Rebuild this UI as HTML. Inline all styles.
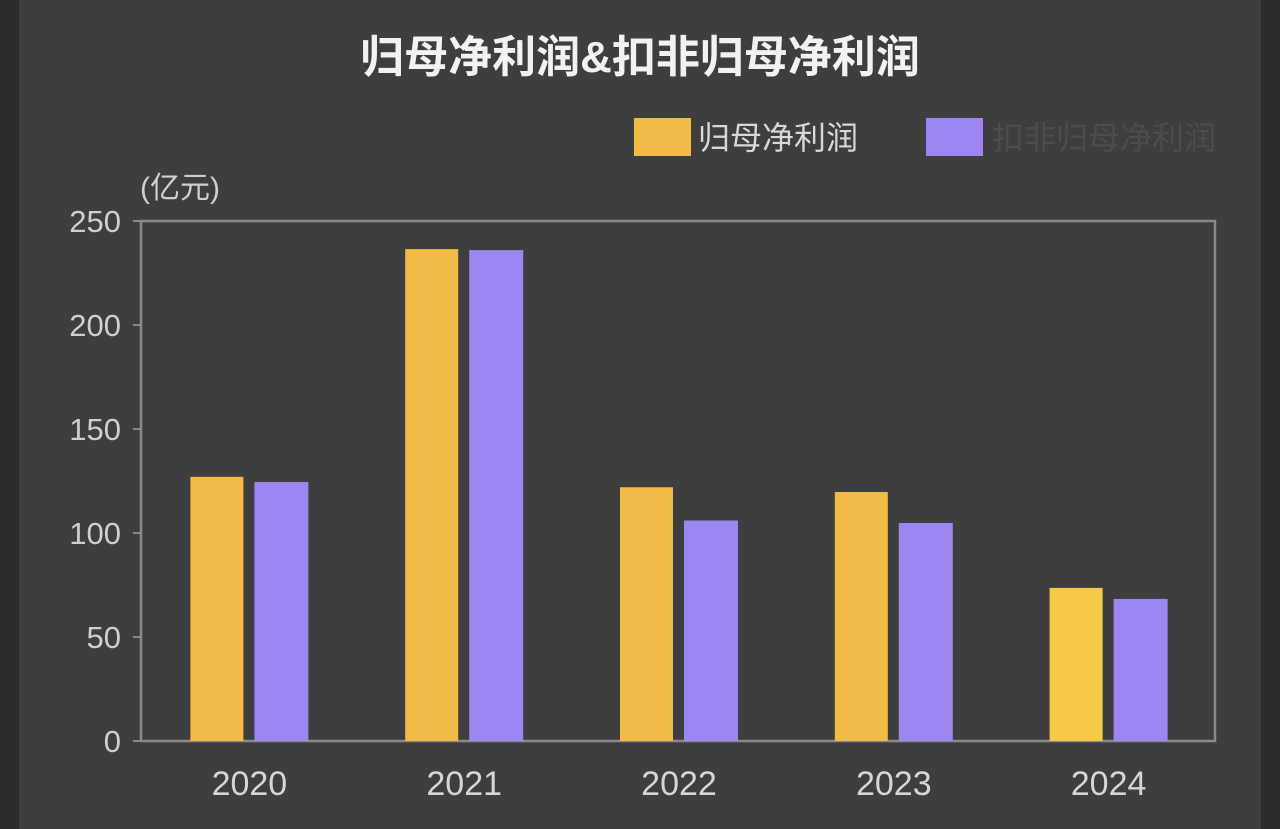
<!DOCTYPE html>
<html><head><meta charset="utf-8"><style>
html,body{margin:0;padding:0;width:1280px;height:829px;overflow:hidden;background:#3e3e3e;}
svg{display:block;font-family:"Liberation Sans","Noto Sans CJK SC",sans-serif;}
</style></head><body>
<svg width="1280" height="829">
<rect x="0" y="0" width="19" height="829" fill="#2b2b2b"/>
<rect x="1261" y="0" width="19" height="829" fill="#2b2b2b"/>
<text x="640" y="72" text-anchor="middle" font-size="44" font-weight="bold" fill="#f2f2f2">归母净利润&amp;扣非归母净利润</text>
<rect x="634" y="118" width="57" height="38" fill="#f2bb45"/>
<text x="698" y="149" font-size="32" fill="#d8d8d8">归母净利润</text>
<rect x="926" y="118" width="57" height="38" fill="#9d85f2"/>
<text x="992" y="149" font-size="32" fill="#4c4c4c">扣非归母净利润</text>
<text x="140" y="198" font-size="30" fill="#cfcfcf">(亿元)</text>
<g id="plot"></g>
</svg>
<script>
const categories=["2020","2021","2022","2023","2024"];
const netProfit=[127,236.5,122,119.7,73.6];
const deductedProfit=[124.5,236,106,104.8,68.3];
const yTicks=[0,50,100,150,200,250];
const X0=141,X1=1215,Y0=741,Y1=221,YMAX=250;
const y=v=>Y0-(v/YMAX)*(Y0-Y1);
const bw=(X1-X0)/categories.length;
const xc=i=>X0+bw*(i+0.5);
const g=document.getElementById('plot');
const NS='http://www.w3.org/2000/svg';
function mk(t,a){const e=document.createElementNS(NS,t);for(const k in a)e.setAttribute(k,a[k]);g.appendChild(e);return e;}
const frame=mk('rect',{x:X0,y:Y1,width:X1-X0,height:Y0-Y1,fill:'none',stroke:'#8a8a8a','stroke-width':2.5});


yTicks.forEach(t=>{
  const tk=mk('line',{x1:X0-8,x2:X0,y1:y(t),y2:y(t),stroke:'#8a8a8a','stroke-width':2});
  
  
  const l=mk('text',{x:X0-20,y:y(t)+11,'text-anchor':'end','font-size':31,fill:'#cfcfcf'});
  l.textContent=t;
  
  
});
categories.forEach((c,i)=>{
  const a=mk('rect',{x:xc(i)-58,y:y(netProfit[i]),width:53,height:Y0-y(netProfit[i]),fill:i===4?'#f6ca48':'#f2bb45'});
  
  
  const b=mk('rect',{x:xc(i)+6,y:y(deductedProfit[i]),width:54,height:Y0-y(deductedProfit[i]),fill:'#9d85f2'});
  
  
  const l=mk('text',{x:xc(i)+1,y:795,'text-anchor':'middle','font-size':34,fill:'#d6d6d6'});
  l.textContent=c;
  
  
});
</script>
</body></html>
